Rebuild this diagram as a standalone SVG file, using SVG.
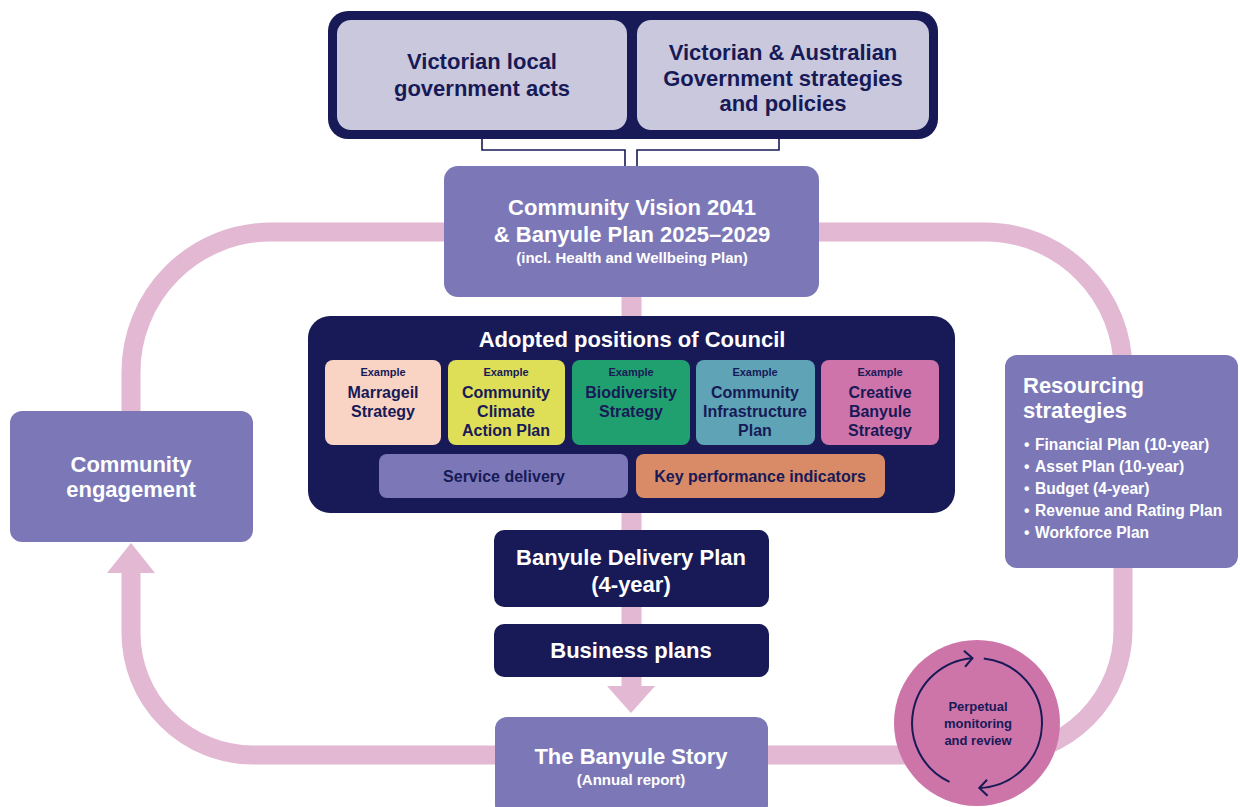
<svg xmlns="http://www.w3.org/2000/svg" width="1240" height="807" viewBox="0 0 1240 807">
<defs>
<style>
text{font-family:"Liberation Sans",Arial,sans-serif;font-weight:bold;text-anchor:middle}
.w{fill:#ffffff}
.n{fill:#171a57}
.t22{font-size:22px}
.t16{font-size:16px}
.t15{font-size:15px}
.tb{font-size:15.6px}
.t11{font-size:11px}
.t13{font-size:13px}
.purple{fill:#7c78b8}
.navy{fill:#171a57}
.light{fill:#c9c8dc}
.loop{fill:none;stroke:#e3b8d3;stroke-width:19}
.brk{fill:none;stroke:#171a57;stroke-width:1.6}
.ring{fill:none;stroke:#171a57;stroke-width:2}
.left{text-anchor:start}
</style>
<marker id="chev" markerUnits="userSpaceOnUse" markerWidth="16" markerHeight="20" refX="11" refY="10" orient="auto">
<path d="M3,2 L11,10 L3,18" fill="none" stroke="#171a57" stroke-width="2"/>
</marker>
</defs>

<g id="connectors">
<path class="loop" d="M131,572 L131,633 A122,122 0 0 0 253,755 L998,755 A125,125 0 0 0 1123,630 L1123,370 A138,138 0 0 0 985,232 L271,232 A140,140 0 0 0 131,372 L131,420"/>
<polygon points="131,543 155,573 107,573" fill="#e3b8d3"/>
<line x1="631.5" y1="290" x2="631.5" y2="688" stroke="#e3b8d3" stroke-width="20"/>
<polygon points="631,713 655,686 607,686" fill="#e3b8d3"/>
<polyline class="brk" points="482,136 482,150 625,150 625,168"/>
<polyline class="brk" points="779,136 779,150 637,150 637,168"/>
</g>

<g id="top-group">
<rect x="328" y="11" width="610" height="128" rx="20" class="navy"/>
</g>
<g id="vic-acts">
<rect x="337" y="20" width="290" height="110" rx="14" class="light"/>
<text x="482" y="69" class="n t22">Victorian local</text>
<text x="482" y="96" class="n t22">government acts</text>
</g>
<g id="vic-aus-strategies">
<rect x="637" y="20" width="292" height="110" rx="14" class="light"/>
<text x="783" y="60" class="n t22">Victorian &amp; Australian</text>
<text x="783" y="86" class="n t22">Government strategies</text>
<text x="783" y="111" class="n t22">and policies</text>
</g>

<g id="community-vision">
<rect x="444" y="166" width="375" height="131" rx="14" class="purple"/>
<text x="632" y="215" class="w t22">Community Vision 2041</text>
<text x="632" y="242" class="w t22">&amp; Banyule Plan 2025–2029</text>
<text x="632" y="263" class="w t15">(incl. Health and Wellbeing Plan)</text>
</g>

<g id="adopted-positions">
<rect x="308" y="316" width="647" height="197" rx="22" class="navy"/>
<text x="632" y="347" class="w t22">Adopted positions of Council</text>
</g>
<g id="marrageil">
<rect x="325" y="360" width="116" height="85" rx="8" fill="#f9d3c3"/>
<text x="383" y="376" class="n t11">Example</text>
<text x="383" y="398" class="n t16">Marrageil</text>
<text x="383" y="417" class="n t16">Strategy</text>
</g>
<g id="climate-action">
<rect x="448" y="360" width="117" height="85" rx="8" fill="#dfde57"/>
<text x="506" y="376" class="n t11">Example</text>
<text x="506" y="398" class="n t16">Community</text>
<text x="506" y="417" class="n t16">Climate</text>
<text x="506" y="436" class="n t16">Action Plan</text>
</g>
<g id="biodiversity">
<rect x="572" y="360" width="118" height="85" rx="8" fill="#21a06f"/>
<text x="631" y="376" class="n t11">Example</text>
<text x="631" y="398" class="n t16">Biodiversity</text>
<text x="631" y="417" class="n t16">Strategy</text>
</g>
<g id="infrastructure">
<rect x="696" y="360" width="119" height="85" rx="8" fill="#5fa3b6"/>
<text x="755" y="376" class="n t11">Example</text>
<text x="755" y="398" class="n t16">Community</text>
<text x="755" y="417" class="n t16">Infrastructure</text>
<text x="755" y="436" class="n t16">Plan</text>
</g>
<g id="creative-banyule">
<rect x="821" y="360" width="118" height="85" rx="8" fill="#cf74aa"/>
<text x="880" y="376" class="n t11">Example</text>
<text x="880" y="398" class="n t16">Creative</text>
<text x="880" y="417" class="n t16">Banyule</text>
<text x="880" y="436" class="n t16">Strategy</text>
</g>
<g id="service-delivery">
<rect x="379" y="454" width="249" height="44" rx="8" class="purple"/>
<text x="504" y="482" class="n t16">Service delivery</text>
</g>
<g id="kpi">
<rect x="636" y="454" width="249" height="44" rx="8" fill="#d98a66"/>
<text x="760" y="482" class="n t16">Key performance indicators</text>
</g>

<g id="delivery-plan">
<rect x="494" y="530" width="275" height="77" rx="10" class="navy"/>
<text x="631" y="565" class="w t22">Banyule Delivery Plan</text>
<text x="631" y="592" class="w t22">(4-year)</text>
</g>
<g id="business-plans">
<rect x="494" y="624" width="275" height="53" rx="10" class="navy"/>
<text x="631" y="658" class="w t22">Business plans</text>
</g>

<g id="banyule-story">
<rect x="495" y="717" width="273" height="100" rx="12" class="purple"/>
<text x="631" y="764" class="w t22">The Banyule Story</text>
<text x="631" y="785" class="w t15">(Annual report)</text>
</g>

<g id="community-engagement">
<rect x="10" y="411" width="243" height="131" rx="12" class="purple"/>
<text x="131" y="472" class="w t22">Community</text>
<text x="131" y="497" class="w t22">engagement</text>
</g>

<g id="resourcing">
<rect x="1005" y="355" width="233" height="213" rx="12" class="purple"/>
<text x="1023" y="393" class="w t22 left">Resourcing</text>
<text x="1023" y="418" class="w t22 left">strategies</text>
<g class="w tb">
<text x="1024" y="450" class="left">•</text><text x="1035" y="450" class="left">Financial Plan (10-year)</text>
<text x="1024" y="472" class="left">•</text><text x="1035" y="472" class="left">Asset Plan (10-year)</text>
<text x="1024" y="494" class="left">•</text><text x="1035" y="494" class="left">Budget (4-year)</text>
<text x="1024" y="516" class="left">•</text><text x="1035" y="516" class="left">Revenue and Rating Plan</text>
<text x="1024" y="538" class="left">•</text><text x="1035" y="538" class="left">Workforce Plan</text>
</g>
</g>

<g id="monitoring">
<circle cx="977" cy="723" r="83" fill="#cd74a8"/>
<path class="ring" d="M949.5,781.9 A65,65 0 0 1 972.5,658.2" marker-end="url(#chev)"/>
<path class="ring" d="M983.8,658.4 A65,65 0 0 1 979.3,788" marker-end="url(#chev)"/>
<text x="978" y="711" class="n t13">Perpetual</text>
<text x="978" y="728" class="n t13">monitoring</text>
<text x="978" y="745" class="n t13">and review</text>
</g>
</svg>
